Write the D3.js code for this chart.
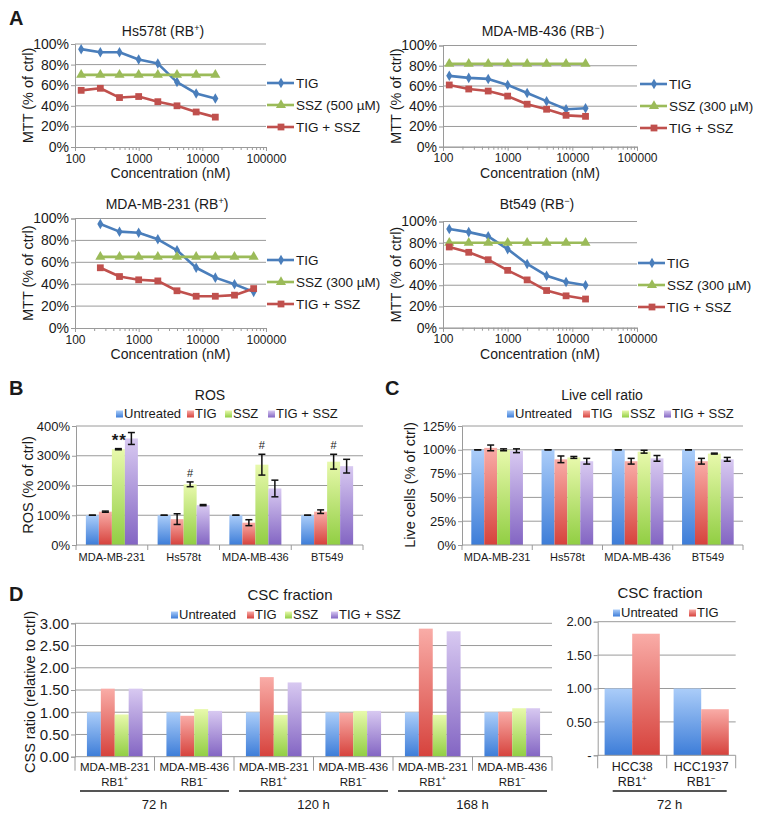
<!DOCTYPE html>
<html><head><meta charset="utf-8">
<script src="https://cdn.jsdelivr.net/npm/d3@7"></script>
<style>
body{margin:0;background:#fff}
svg text{font-family:"Liberation Sans",Arial,Helvetica,sans-serif;fill:#1a1a1a}
</style>
</head><body>
<svg id="c" width="757" height="822"></svg>
<script>
// ---------------- DATA ----------------
// Panel A (MTT, % of ctrl)
const concShort = [125, 250, 500, 1000, 2000, 4000, 8000, 16000];
const concLong = [250, 500, 1000, 2000, 4000, 8000, 16000, 32000, 64000];
const xDecades = [100, 1000, 10000, 100000];
const pctTicksA = [0, 20, 40, 60, 80, 100];

const hsTIG = [95, 92, 92, 85, 81, 63, 52, 47];
const hsSSZ = [70, 70, 70, 70, 70, 70, 70, 70];
const hsCombo = [55, 57, 48, 49, 44, 40, 34, 29];

const m436TIG = [70, 68, 67, 61, 53, 45, 37, 38];
const m436SSZ = [82, 82, 82, 82, 82, 82, 82, 82];
const m436Combo = [61, 57, 55, 50, 42, 37, 31, 30];

const m231TIG = [95, 88, 87, 81, 71, 55, 46, 40, 33];
const m231SSZ = [65, 65, 65, 65, 65, 65, 65, 65, 65];
const m231Combo = [55, 47, 44, 43, 34, 29, 29, 30, 36];

const btTIG = [93, 90, 86, 74, 60, 49, 43, 40];
const btSSZ = [80, 80, 80, 80, 80, 80, 80, 80];
const btCombo = [76, 71, 64, 54, 45, 35, 30, 27];

// Panels B, C
const treatments = ["Untreated", "TIG", "SSZ", "TIG + SSZ"];
const cellLines = ["MDA-MB-231", "Hs578t", "MDA-MB-436", "BT549"];
const rosMean = [[100, 112, 322, 358], [100, 87, 204, 134], [100, 75, 270, 190], [100, 112, 280, 265]];
const rosErr = [[0, 2, 2, 20], [0, 18, 8, 2], [0, 10, 35, 28], [0, 6, 25, 23]];
const rosAnnot = ["**", "#", "#", "#"];
const rosTicks = [0, 100, 200, 300, 400];
const liveMean = [[100, 102, 100, 99], [100, 90, 92, 88], [100, 88, 98, 91], [100, 88, 96, 90]];
const liveErr = [[0, 3, 1, 2], [0, 3.5, 1, 3], [0, 3, 1.5, 3], [0, 3, 0.5, 2]];
const liveTicks = [0, 25, 50, 75, 100, 125];

// Panel D
const cscLines = ["MDA-MB-231", "MDA-MB-436", "MDA-MB-231", "MDA-MB-436", "MDA-MB-231", "MDA-MB-436"];
const cscRB = ["+", "−", "+", "−", "+", "−"];
const cscTimes = ["72 h", "120 h", "168 h"];
const cscUntreated = [1.00, 1.00, 1.00, 1.00, 1.00, 1.00];
const cscTIG = [1.53, 0.92, 1.79, 0.99, 2.88, 1.01];
const cscSSZ = [0.95, 1.07, 0.94, 1.03, 0.94, 1.09];
const cscCombo = [1.53, 1.03, 1.67, 1.03, 2.82, 1.09];
const cscTicks = [0, 0.5, 1, 1.5, 2, 2.5, 3];

const hccLines = ["HCC38", "HCC1937"];
const hccRB = ["+", "−"];
const hccTime = ["72 h"];
const hccUntreated = [1.00, 1.00];
const hccTIG = [1.82, 0.69];
const hccTicks = [0, 0.5, 1, 1.5, 2];

// ---------------- DRAWING ----------------
const svg = d3.select("#c");
const GRID = "#9a9a9a";
const defs = svg.append("defs");
const barColors = [["#abcdf9", "#3d7dd8"], ["#f9aca7", "#d6423c"], ["#e8f9ac", "#91ce43"], ["#d8c9f1", "#8365c3"]];
barColors.forEach((c, i) => {
  const lg = defs.append("linearGradient").attr("id", "g" + i).attr("x1", 0).attr("y1", 0).attr("x2", 0).attr("y2", 1);
  lg.append("stop").attr("offset", "0%").attr("stop-color", c[0]);
  lg.append("stop").attr("offset", "100%").attr("stop-color", c[1]);
});

function panelLetter(x, y, t) {
  svg.append("text").attr("x", x).attr("y", y).attr("font-size", 20).attr("font-weight", "bold").text(t);
}
function supText(sel, base, sup, tail, supSize) {
  sel.append("tspan").text(base);
  sel.append("tspan").attr("dy", -5).attr("font-size", supSize).text(sup);
  if (tail) sel.append("tspan").attr("dy", 5).text(tail);
}
function yLabel(x, cy, text, size) {
  svg.append("text").attr("transform", `translate(${x},${cy}) rotate(-90)`)
    .attr("text-anchor", "middle").attr("font-size", size).text(text);
}
function styleAxis(a) {
  a.select(".domain").attr("stroke", GRID);
  a.selectAll(".tick line").attr("stroke", GRID);
}

panelLetter(9, 25, "A");
panelLetter(9, 395, "B");
panelLetter(385, 395, "C");
panelLetter(9, 601, "D");

// ---------- Panel A line charts ----------
const lineColors = ["#4a7ebb", "#9bbb59", "#c0504d"];
const symbols = [d3.symbolDiamond, d3.symbolTriangle, d3.symbolSquare];
const symSize = [32, 44, 46];

function lineChart(o) {
  const g = svg.append("g");
  const x = d3.scaleLog().domain([100, 100000]).range([o.left, o.right]);
  const y = d3.scaleLinear().domain([0, 100]).range([o.bottom, o.top]);
  g.selectAll("line.grid").data(pctTicksA.slice(1)).join("line")
    .attr("x1", o.left).attr("x2", o.right).attr("y1", d => y(d)).attr("y2", d => y(d))
    .attr("stroke", GRID).attr("stroke-width", 1);
  const ya = g.append("g").attr("transform", `translate(${o.left},0)`)
    .call(d3.axisLeft(y).tickValues(pctTicksA).tickFormat(d => d + "%").tickSize(4).tickPadding(2));
  styleAxis(ya);
  ya.selectAll("text").attr("font-size", 14).attr("font-family", null);
  const minor = x.ticks().filter(d => !xDecades.includes(d));
  const xm = g.append("g").attr("transform", `translate(0,${o.bottom})`)
    .call(d3.axisBottom(x).tickValues(minor).tickFormat("").tickSize(3));
  styleAxis(xm);
  const xa = g.append("g").attr("transform", `translate(0,${o.bottom})`)
    .call(d3.axisBottom(x).tickValues(xDecades).tickFormat(d3.format("d")).tickSize(4).tickPadding(3));
  styleAxis(xa);
  xa.selectAll("text").attr("font-size", 12).attr("font-family", null);
  g.append("text").attr("x", (o.left + o.right) / 2).attr("y", o.bottom + 31)
    .attr("text-anchor", "middle").attr("font-size", 14).text("Concentration (nM)");
  const t = g.append("text").attr("x", o.titleX).attr("y", o.titleY).attr("text-anchor", "middle").attr("font-size", 14);
  supText(t, o.title, o.sup, ")", 9);
  yLabel(o.left - 42, (o.top + o.bottom) / 2, "MTT (% of ctrl)", 14.5);
  const line = d3.line().x((d, i) => x(o.conc[i])).y(d => y(d));
  o.series.forEach((s, si) => {
    g.append("path").datum(s).attr("d", line).attr("fill", "none")
      .attr("stroke", lineColors[si]).attr("stroke-width", 2.6).attr("stroke-linejoin", "round");
    g.selectAll(null).data(s).join("path")
      .attr("transform", (d, i) => `translate(${x(o.conc[i])},${y(d)})`)
      .attr("d", d3.symbol().type(symbols[si]).size(symSize[si])).attr("fill", lineColors[si]);
  });
  const labels = ["TIG", o.sszLabel, "TIG + SSZ"];
  labels.forEach((l, i) => {
    const ly = o.legY + i * 22;
    g.append("line").attr("x1", o.legX).attr("x2", o.legX + 27).attr("y1", ly).attr("y2", ly)
      .attr("stroke", lineColors[i]).attr("stroke-width", 2.6);
    g.append("path").attr("transform", `translate(${o.legX + 14},${ly})`)
      .attr("d", d3.symbol().type(symbols[i]).size(symSize[i])).attr("fill", lineColors[i]);
    g.append("text").attr("x", o.legX + 29).attr("y", ly + 5).attr("font-size", 13.5).text(l);
  });
}

lineChart({left: 75, right: 266, top: 44, bottom: 147, conc: concShort,
  series: [hsTIG, hsSSZ, hsCombo], title: "Hs578t (RB", sup: "+", titleX: 163, titleY: 36,
  sszLabel: "SSZ (500 µM)", legX: 267, legY: 83});
lineChart({left: 443, right: 637, top: 45.5, bottom: 146.7, conc: concShort,
  series: [m436TIG, m436SSZ, m436Combo], title: "MDA-MB-436 (RB", sup: "−", titleX: 543, titleY: 36,
  sszLabel: "SSZ (300 µM)", legX: 640, legY: 84});
lineChart({left: 75, right: 266, top: 218.5, bottom: 328, conc: concLong,
  series: [m231TIG, m231SSZ, m231Combo], title: "MDA-MB-231 (RB", sup: "+", titleX: 167, titleY: 209,
  sszLabel: "SSZ (300 µM)", legX: 267, legY: 260});
lineChart({left: 443, right: 637, top: 221.5, bottom: 327.7, conc: concShort,
  series: [btTIG, btSSZ, btCombo], title: "Bt549 (RB", sup: "−", titleX: 537, titleY: 209,
  sszLabel: "SSZ (300 µM)", legX: 638, legY: 263});

// ---------- Panels B, C ----------
function legendBars(items, xs, y, size) {
  items.forEach((t, i) => {
    svg.append("rect").attr("x", xs[i]).attr("y", y - 7.5).attr("width", 7).attr("height", 7).attr("fill", `url(#g${i})`);
    svg.append("text").attr("x", xs[i] + 8).attr("y", y).attr("font-size", size).text(t);
  });
}

function barChart(o) {
  const g = svg.append("g");
  const x0 = d3.scaleBand().domain(d3.range(o.cats.length)).range([o.left, o.right]);
  const bw = x0.bandwidth();
  const x1 = d3.scaleBand().domain(d3.range(o.nSeries)).range([bw * (1 - o.frac) / 2, bw * (1 + o.frac) / 2]);
  const y = d3.scaleLinear().domain([0, o.max]).range([o.bottom, o.top]);
  g.selectAll("line.grid").data(o.ticks.slice(1)).join("line")
    .attr("x1", o.left).attr("x2", o.right).attr("y1", d => y(d)).attr("y2", d => y(d))
    .attr("stroke", GRID);
  const ya = g.append("g").attr("transform", `translate(${o.left},0)`)
    .call(d3.axisLeft(y).tickValues(o.ticks).tickFormat(o.fmt).tickSize(4).tickPadding(2));
  styleAxis(ya);
  ya.selectAll("text").attr("font-size", o.tickSize).attr("font-family", null);
  // bars
  o.means.forEach((grp, ci) => {
    grp.forEach((v, si) => {
      const bx = x0(ci) + x1(si);
      g.append("rect").attr("x", bx).attr("y", y(v)).attr("width", x1.bandwidth())
        .attr("height", y(0) - y(v)).attr("fill", `url(#g${si})`);
      if (o.errs) {
        const e = o.errs[ci][si];
        const cx = bx + x1.bandwidth() / 2;
        const eg = g.append("g").attr("stroke", "#111").attr("stroke-width", 1.5);
        eg.append("line").attr("x1", cx).attr("x2", cx).attr("y1", y(v + e)).attr("y2", y(v - e));
        eg.append("line").attr("x1", cx - 3.5).attr("x2", cx + 3.5).attr("y1", y(v + e)).attr("y2", y(v + e));
        eg.append("line").attr("x1", cx - 3.5).attr("x2", cx + 3.5).attr("y1", y(v - e)).attr("y2", y(v - e));
      }
    });
  });
  // x axis
  g.append("line").attr("x1", o.left).attr("x2", o.right).attr("y1", y(0)).attr("y2", y(0)).attr("stroke", GRID);
  const bounds = d3.range(o.cats.length + 1).map(i => o.left + i * bw);
  g.selectAll("line.sep").data(bounds).join("line")
    .attr("x1", d => d).attr("x2", d => d).attr("y1", y(0)).attr("y2", y(0) + o.sepLen).attr("stroke", GRID);
  return {g, x0, x1, y, bw};
}

// B: ROS
{
  const r = barChart({left: 76, right: 363, top: 426, bottom: 545, max: 400, ticks: rosTicks,
    fmt: d => d + "%", tickSize: 13, cats: cellLines, nSeries: 4, frac: 0.725,
    means: rosMean, errs: rosErr, sepLen: 5});
  cellLines.forEach((c, i) => r.g.append("text").attr("x", r.x0(i) + r.bw / 2).attr("y", 561)
    .attr("text-anchor", "middle").attr("font-size", 11).text(c));
  rosAnnot.forEach((a, i) => {
    const cx = r.x0(i) + r.x1(2) + r.x1.bandwidth() / 2;
    const top = r.y(rosMean[i][2] + rosErr[i][2]);
    if (a === "**") {
      r.g.append("text").attr("x", cx + 1).attr("y", top - 3).attr("text-anchor", "middle")
        .attr("font-size", 17).attr("font-weight", "bold").attr("letter-spacing", 1).text(a);
    } else {
      r.g.append("text").attr("x", cx).attr("y", top - 5).attr("text-anchor", "middle")
        .attr("font-size", 11).text(a);
    }
  });
  svg.append("text").attr("x", 210).attr("y", 400).attr("text-anchor", "middle").attr("font-size", 14).text("ROS");
  legendBars(treatments, [116, 187, 225, 268], 418, 13);
  yLabel(33, 485, "ROS (% of ctrl)", 14.5);
}
// C: Live cells
{
  const r = barChart({left: 462, right: 743, top: 426, bottom: 545, max: 125, ticks: liveTicks,
    fmt: d => d + "%", tickSize: 13, cats: cellLines, nSeries: 4, frac: 0.735,
    means: liveMean, errs: liveErr, sepLen: 5});
  cellLines.forEach((c, i) => r.g.append("text").attr("x", r.x0(i) + r.bw / 2).attr("y", 561)
    .attr("text-anchor", "middle").attr("font-size", 11).text(c));
  svg.append("text").attr("x", 602).attr("y", 400).attr("text-anchor", "middle").attr("font-size", 14).text("Live cell ratio");
  legendBars(treatments, [507, 583, 622, 664], 418, 13);
  yLabel(415, 485, "Live cells (% of ctrl)", 14.5);
}

// D: CSC fraction (left)
function multiLevel(r, lines, rb, times, perGroup, fontSize, inset) {
  lines.forEach((c, i) => {
    const cx = r.x0(i) + r.bw / 2;
    r.g.append("text").attr("x", cx).attr("y", 770.5).attr("text-anchor", "middle").attr("font-size", fontSize).text(c);
    const t = r.g.append("text").attr("x", cx).attr("y", 786).attr("text-anchor", "middle").attr("font-size", fontSize);
    supText(t, "RB1", rb[i], null, 8);
  });
  times.forEach((tm, k) => {
    const x1 = r.x0(k * perGroup) + inset[0];
    const x2 = r.x0(k * perGroup) + perGroup * r.bw - inset[1];
    r.g.append("line").attr("x1", x1).attr("x2", x2).attr("y1", 791).attr("y2", 791)
      .attr("stroke", "#555").attr("stroke-width", 2);
    r.g.append("text").attr("x", (x1 + x2) / 2).attr("y", 809).attr("text-anchor", "middle").attr("font-size", 13).text(tm);
  });
}
{
  const means = cscUntreated.map((u, i) => [u, cscTIG[i], cscSSZ[i], cscCombo[i]]);
  const r = barChart({left: 75, right: 552, top: 623.3, bottom: 756.7, max: 3, ticks: cscTicks,
    fmt: d3.format(".2f"), tickSize: 15, cats: cscLines, nSeries: 4, frac: 0.70,
    means: means, errs: null, sepLen: 14});
  multiLevel(r, cscLines, cscRB, cscTimes, 2, 11.5, [5, 5]);
  svg.append("text").attr("x", 290).attr("y", 600).attr("text-anchor", "middle").attr("font-size", 15).text("CSC fraction");
  legendBars(treatments, [171, 247, 285, 331], 619, 13);
  yLabel(35, 692, "CSS ratio (relative to ctrl)", 14.5);
}
// D: CSC fraction (right)
{
  const means = hccUntreated.map((u, i) => [u, hccTIG[i]]);
  const r = barChart({left: 597.7, right: 735.7, top: 621.7, bottom: 755.3, max: 2, ticks: hccTicks,
    fmt: d => d === 0 ? "-" : d3.format(".2f")(d), tickSize: 13, cats: hccLines, nSeries: 2, frac: 0.8,
    means: means, errs: null, sepLen: 13});
  multiLevel(r, hccLines, hccRB, hccTime, 2, 12.5, [15, 9]);
  svg.append("text").attr("x", 660).attr("y", 598).attr("text-anchor", "middle").attr("font-size", 15).text("CSC fraction");
  legendBars(treatments.slice(0, 2), [613, 689], 617, 13);
}
</script>
</body></html>
